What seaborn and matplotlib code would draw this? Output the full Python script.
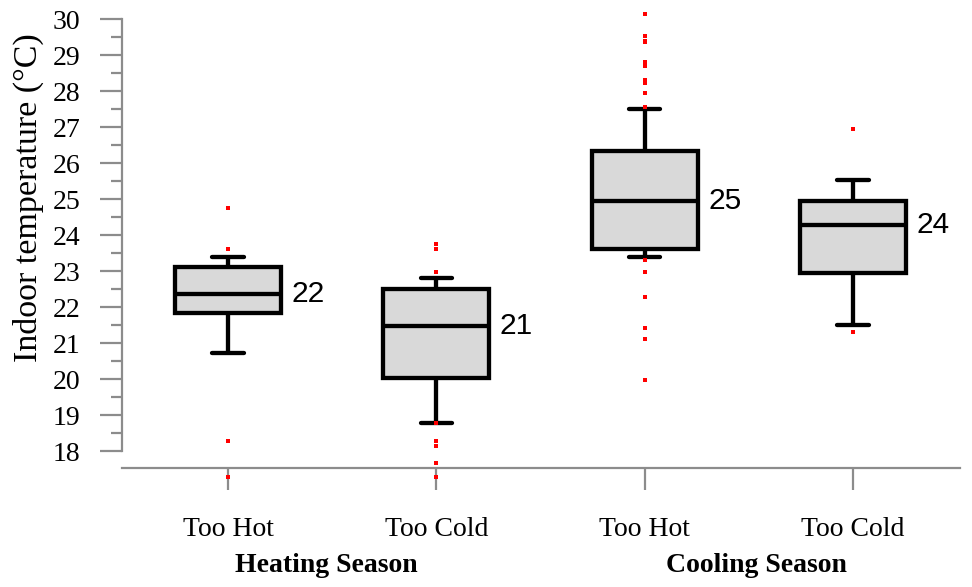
import pandas as pd
import matplotlib
matplotlib.use("Agg")
import matplotlib.pyplot as plt
from matplotlib.ticker import MultipleLocator
import seaborn as sns

# box summaries (whisker low, q1, median, q3, whisker high)
groups = ["HS Too Hot", "HS Too Cold", "CS Too Hot", "CS Too Cold"]
tick_labels = ["Too Hot", "Too Cold", "Too Hot", "Too Cold"]
season_labels = ["Heating Season", "Cooling Season"]
whis_lo = [20.73, 18.77, 23.38, 21.50]
q1 = [21.84, 20.02, 23.61, 22.94]
median = [22.35, 21.47, 24.94, 24.28]
q3 = [23.12, 22.49, 26.32, 24.94]
whis_hi = [23.40, 22.81, 27.49, 25.53]
median_labels = ["22", "21", "25", "24"]

outliers = [
    [24.76, 23.60, 18.28, 17.29],
    [23.75, 23.60, 22.98, 18.77, 18.28, 18.14, 17.68, 17.27],
    [30.13, 29.53, 29.40, 29.35, 28.81, 28.70, 28.31, 28.21, 27.94, 27.56,
     23.31, 22.98, 22.29, 21.43, 21.11, 19.97],
    [26.94, 21.31],
]

SERIF = "Liberation Serif"
SANS = "Liberation Sans"
GREY = "#8c8c8c"


def main():
    sns.set_style("white")
    plt.rcParams["font.family"] = [SERIF, "DejaVu Serif"]
    plt.rcParams["text.color"] = "black"

    # five values per box -> whis=(0, 100) reproduces the summary exactly
    box_df = pd.DataFrame({
        "group": [g for g in groups for _ in range(5)],
        "temp": [v for i in range(len(groups))
                 for v in (whis_lo[i], q1[i], median[i], q3[i], whis_hi[i])],
    })
    out_df = pd.DataFrame({
        "group": [g for g, vals in zip(groups, outliers) for _ in vals],
        "temp": [v for vals in outliers for v in vals],
    })

    fig = plt.figure(figsize=(9.72, 5.87), dpi=100)
    ax = fig.add_axes([122 / 972, 119 / 587, 838 / 972, 460 / 587])

    sns.boxplot(data=box_df, x="group", y="temp", order=groups, ax=ax,
                whis=(0, 100), showfliers=False, width=0.51,
                color="#d9d9d9", linecolor="black", linewidth=3.1,
                capwidths=0.15)
    n_before = len(ax.collections)
    sns.stripplot(data=out_df, x="group", y="temp", order=groups, ax=ax,
                  jitter=False, color="#ff0000", size=2.5, marker="s",
                  linewidth=0)
    for coll in ax.collections[n_before:]:
        coll.set_clip_on(False)
        coll.set_zorder(5)

    # median labels
    for i, lab in enumerate(median_labels):
        ax.text(i + 0.305, median[i], lab, ha="left", va="center",
                fontsize=21.5, family=SANS, color="black")

    ax.set_xlim(-0.509, 3.514)
    ax.set_ylim(17.528, 30.306)

    ax.yaxis.set_major_locator(MultipleLocator(1))
    ax.yaxis.set_minor_locator(MultipleLocator(0.5))
    ax.set_yticks(range(18, 31))
    ax.set_xticks(range(len(groups)))
    ax.set_xticklabels(tick_labels)
    ax.set_xlabel("")
    ax.set_ylabel("")

    for side in ["top", "right"]:
        ax.spines[side].set_visible(False)
    ax.spines["left"].set_bounds(18, 30)
    for side in ["left", "bottom"]:
        ax.spines[side].set_color(GREY)
        ax.spines[side].set_linewidth(1.6)

    ax.tick_params(axis="y", which="major", direction="out", length=16,
                   width=1.6, color=GREY, pad=14, labelsize=20,
                   labelcolor="black", left=True)
    ax.tick_params(axis="y", which="minor", direction="out", length=8,
                   width=1.6, color=GREY, left=True)
    ax.tick_params(axis="x", which="major", direction="out", length=16,
                   width=1.6, color=GREY, pad=19, labelsize=20,
                   labelcolor="black", bottom=True)
    ax.tick_params(axis="x", which="minor", bottom=False)

    fig.text(28 / 972, 1 - 198 / 587, "Indoor temperature (\u00b0C)",
             rotation=90, ha="center", va="center", fontsize=24.5)
    fig.text(326 / 972, 1 - 571.5 / 587, season_labels[0], ha="center",
             va="baseline", fontsize=20, fontweight="bold")
    fig.text(756 / 972, 1 - 571.5 / 587, season_labels[1], ha="center",
             va="baseline", fontsize=20, fontweight="bold")

    fig.savefig("out.png", dpi=100, facecolor="white")
    plt.close(fig)


if __name__ == "__main__":
    main()
